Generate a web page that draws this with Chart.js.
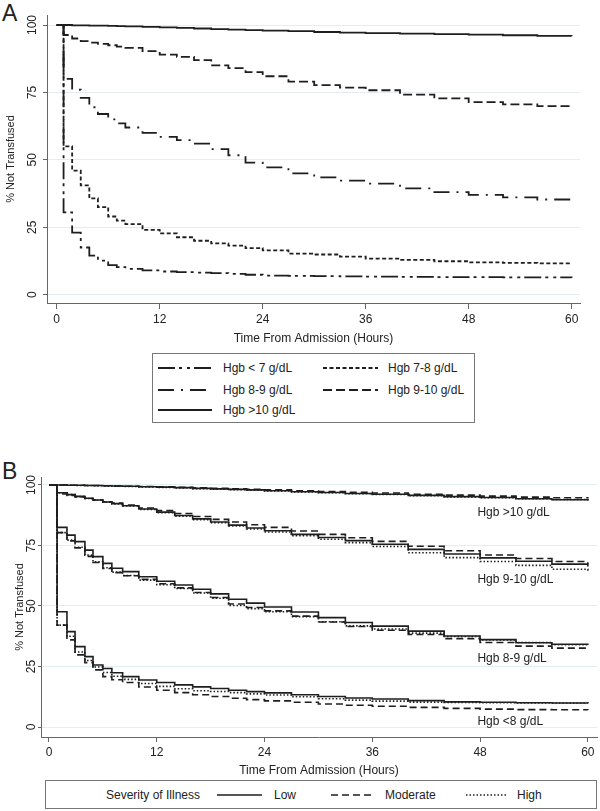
<!DOCTYPE html>
<html>
<head>
<meta charset="utf-8">
<title>Time to transfusion by admission hemoglobin</title>
<script src="https://cdn.jsdelivr.net/npm/chart.js@4/dist/chart.umd.min.js"></script>
<style>
  body { margin: 0; background: #fff; font-family: "Liberation Sans", Arial, sans-serif; color: #222; }
  #page { position: relative; width: 600px; height: 811px; overflow: hidden; }
  canvas { position: absolute; left: 0; }
  .panel-tag { position: absolute; left: 2px; font-size: 23px; line-height: 23px; }
  .legend { position: absolute; border: 1px solid #777; box-sizing: border-box; background: #fff; }
  .legend .txt { position: absolute; height: 16px; line-height: 16px; font-size: 12px; white-space: nowrap; }
  .legend svg { position: absolute; }
</style>
</head>
<body>
<div id="page">
  <div class="panel-tag" style="top:2px">A</div>
  <canvas id="chartA" width="600" height="350" style="top:0"></canvas>
  <div id="legendA" class="legend" style="left:152px; top:353px; width:323px; height:70px"></div>
  <div class="panel-tag" style="top:460px">B</div>
  <canvas id="chartB" width="600" height="342" style="top:440px"></canvas>
  <div id="legendB" class="legend" style="left:45px; top:780px; width:552px; height:29px"></div>
</div>
<script>
'use strict';

// axis ticks
const xTicks = [0, 12, 24, 36, 48, 60];
const yTicks = [0, 25, 50, 75, 100];

// Panel A: % not transfused by admission Hgb
const hoursA = [0, 0.8, 1.8, 2.8, 3.8, 4.8, 6, 7, 8, 10, 12, 14, 16, 18, 20, 22, 24, 27, 30, 33, 36, 40, 44, 48, 52, 56, 60];
const hgbOver10 = [100, 100, 99.9, 99.9, 99.8, 99.8, 99.7, 99.6, 99.5, 99.3, 99.1, 98.9, 98.7, 98.5, 98.3, 98.1, 97.9, 97.7, 97.4, 97.2, 97.0, 96.8, 96.6, 96.4, 96.2, 96.0, 95.9];
const hgb9to10 = [100, 96.3, 95, 94, 93.5, 93, 92.5, 92, 91.5, 90.3, 89, 88.2, 87, 85, 84, 82.5, 81, 79, 77.7, 76.8, 75.8, 74.2, 72.8, 71.4, 70.6, 69.9, 69.4];
const hgb8to9 = [100, 80, 76, 73, 69.5, 67, 65, 63.5, 62, 60, 58.5, 57.3, 56, 54, 51.7, 49, 47.2, 45, 43.5, 42.3, 41.2, 39.4, 38, 37, 36.1, 35.3, 34.8];
const hgb7to8 = [100, 55, 46, 40.5, 35.7, 32.5, 29, 27.5, 26.2, 24, 22.7, 21.3, 20, 19, 18.2, 17.3, 16.4, 15.2, 14.9, 14.1, 13.4, 12.9, 12.4, 12, 11.8, 11.6, 11.5];
const hgbUnder7 = [100, 30.5, 23, 17.5, 14.5, 12.6, 11, 10.2, 9.6, 9, 8.6, 8.4, 8.2, 8, 7.7, 7.4, 7.1, 7, 6.9, 6.8, 6.7, 6.6, 6.5, 6.5, 6.4, 6.4, 6.3];

// Panel B: same groups split by severity of illness
const hoursB = [0, 0.9, 2, 2.9, 4, 4.9, 6, 7, 8.2, 10, 12, 14, 16, 18, 20, 22, 24, 27, 30, 33, 36, 40, 44, 48, 52, 56, 60];
const lowOver10 = [100, 100, 99.9, 99.9, 99.8, 99.8, 99.7, 99.6, 99.5, 99.3, 99.1, 98.9, 98.6, 98.4, 98.2, 98, 97.6, 97.2, 96.9, 96.5, 96.2, 95.7, 95.2, 94.8, 94.3, 93.9, 93.5];
const modOver10 = [100, 100, 99.9, 99.9, 99.8, 99.8, 99.7, 99.6, 99.5, 99.4, 99.2, 99, 98.8, 98.6, 98.4, 98.2, 98, 97.6, 97.3, 97, 96.7, 96.2, 95.8, 95.4, 95, 94.7, 94.4];
const highOver10 = [100, 100, 99.9, 99.8, 99.8, 99.7, 99.6, 99.5, 99.4, 99.2, 99, 98.8, 98.5, 98.3, 98.1, 97.8, 97.5, 97.1, 96.8, 96.4, 96.1, 95.6, 95.1, 94.7, 94.3, 94, 93.7];
const low9to10 = [100, 96.8, 96, 95.3, 94.5, 93.8, 93, 92.3, 91.4, 90.1, 88.8, 87.4, 86, 84.7, 83.4, 82.2, 81.1, 79.6, 78.3, 77, 75.5, 73.4, 71.5, 69.9, 68.5, 67.3, 66.3];
const mod9to10 = [100, 96.3, 95.7, 95.1, 94.4, 93.8, 93.1, 92.5, 91.7, 90.5, 89.4, 88.2, 87, 85.8, 84.7, 83.6, 82.5, 81, 79.6, 78.2, 76.7, 74.7, 72.8, 71.1, 69.6, 68.4, 67.4];
const high9to10 = [100, 96.8, 96, 95.2, 94.4, 93.7, 92.9, 92.2, 91.3, 89.9, 88.5, 87.1, 85.7, 84.4, 83.1, 81.8, 80.6, 79, 77.6, 76.2, 74.6, 72, 70, 68.4, 66.8, 65.2, 63.8];
const low8to9 = [100, 82.5, 79.3, 76.6, 73.1, 70.4, 67.6, 65.6, 64.2, 62.1, 60.2, 58.7, 56.9, 55, 52.8, 51.2, 49.6, 47.5, 45.2, 43.2, 41.7, 39.6, 37.6, 36.1, 34.8, 34.2, 33.9];
const mod8to9 = [100, 80.3, 76.9, 74, 70.5, 68, 65.5, 63.8, 62.5, 61, 59.2, 57.5, 55.6, 53.5, 50.8, 49.4, 48, 45.8, 43.4, 41.5, 40, 38.2, 36.5, 34.9, 33.4, 32.6, 32.1];
const high8to9 = [100, 80.3, 77.2, 74.3, 71, 68.3, 65.8, 64, 62.6, 60.7, 58.8, 57.2, 55.4, 53.2, 50.2, 48.9, 47.6, 45.6, 43.5, 41.8, 40.5, 38.8, 37.4, 36, 34.9, 34, 33.5];
const lowUnder8 = [100, 47.6, 39.4, 33.2, 29.1, 25.6, 24.2, 22.4, 20.8, 19.4, 18.4, 17.4, 16.6, 15.9, 15.2, 14.6, 14.1, 13.3, 12.6, 12, 11.6, 10.9, 10.4, 10.2, 10, 9.9, 9.8];
const modUnder8 = [100, 42.1, 36, 29.8, 26.6, 23.6, 20.8, 19.5, 18.4, 16.5, 15.2, 14.2, 13.3, 12.6, 11.9, 11.3, 10.8, 10.2, 9.5, 9, 8.6, 8.1, 7.7, 7.4, 7.2, 7.1, 7];
const highUnder8 = [100, 42.1, 37.5, 31, 27.5, 24.8, 22.5, 21, 19.7, 18, 16.8, 15.8, 15, 14.7, 14.2, 13.7, 13.2, 12.5, 11.7, 11.1, 10.7, 10.3, 10.1, 10, 9.9, 9.9, 9.8];

// curve labels in panel B (hours, percent)
const groupLabelsB = [
    { text: 'Hgb >10 g/dL', hour: 47.7, pct: 88.4 },
    { text: 'Hgb 9-10 g/dL', hour: 47.7, pct: 60.7 },
    { text: 'Hgb 8-9 g/dL', hour: 47.7, pct: 28.1 },
    { text: 'Hgb <8 g/dL', hour: 47.7, pct: 2.3 }
];

const INK = '#1e1e1e';
const FONT = '"Liberation Sans", Arial, sans-serif';

const dashA = {
    under7: [17, 4, 3, 5, 3, 4],
    d7to8: [4, 2.5],
    d8to9: [16, 7, 2, 7],
    d9to10: [9, 4],
    over10: []
};
const dashB = { low: [], moderate: [7, 4], high: [1.5, 2] };

window.onload = main;

function points(hours, values) {
    return hours.map((h, i) => ({ x: h, y: values[i] }));
}

function kmLine(label, hours, values, dash, width) {
    return {
        label: label,
        data: points(hours, values),
        borderColor: INK,
        borderWidth: width,
        borderDash: dash,
        stepped: true,
        pointRadius: 0,
        fill: false
    };
}

function makeScales(opt) {
    return {
        x: {
            type: 'linear',
            min: opt.xMin,
            max: opt.xMax,
            afterBuildTicks: s => { s.ticks = xTicks.map(v => ({ value: v })); },
            afterFit: s => { s.height = opt.xHeight; },
            border: { color: '#666', width: 1 },
            grid: { drawOnChartArea: false, drawTicks: true, tickLength: opt.xTickLen, tickColor: '#666' },
            ticks: { color: '#222', padding: 3, maxRotation: 0, font: { family: FONT, size: 12 } },
            title: { display: true, text: 'Time From Admission (Hours)', color: '#222',
                     font: { family: FONT, size: 12 }, padding: { top: 2, bottom: 4 } }
        },
        y: {
            type: 'linear',
            min: opt.yMin,
            max: opt.yMax,
            afterBuildTicks: s => { s.ticks = yTicks.map(v => ({ value: v })); },
            afterFit: s => { s.width = opt.yWidth; },
            border: { color: '#666', width: 1 },
            grid: { color: '#e2edf2', lineWidth: 1, drawTicks: true, tickLength: opt.yTickLen, tickColor: '#666' },
            ticks: { color: '#222', minRotation: 90, maxRotation: 90, crossAlign: 'center',
                     padding: opt.yTickPad, font: { family: FONT, size: 12 } },
            title: { display: true, text: '% Not Transfused', color: '#222',
                     font: { family: FONT, size: 11 }, padding: { top: opt.yTitlePad, bottom: 0 } }
        }
    };
}

const groupLabelPlugin = {
    id: 'groupLabels',
    afterDatasetsDraw(chart) {
        const { ctx, scales } = chart;
        ctx.save();
        ctx.font = '12px ' + FONT;
        ctx.fillStyle = '#222';
        ctx.textBaseline = 'middle';
        ctx.textAlign = 'left';
        groupLabelsB.forEach(l => {
            ctx.fillText(l.text, scales.x.getPixelForValue(l.hour), scales.y.getPixelForValue(l.pct));
        });
        ctx.restore();
    }
};

function main() {
    Chart.defaults.font.family = FONT;

    /* Panel A */
    new Chart(document.getElementById('chartA'), {
        type: 'line',
        data: {
            datasets: [
                kmLine('Hgb < 7 g/dL', hoursA, hgbUnder7, dashA.under7, 1.8),
                kmLine('Hgb 7-8 g/dL', hoursA, hgb7to8, dashA.d7to8, 1.8),
                kmLine('Hgb 8-9 g/dL', hoursA, hgb8to9, dashA.d8to9, 1.8),
                kmLine('Hgb 9-10 g/dL', hoursA, hgb9to10, dashA.d9to10, 1.8),
                kmLine('Hgb >10 g/dL', hoursA, hgbOver10, dashA.over10, 1.8)
            ]
        },
        options: {
            responsive: false,
            animation: false,
            devicePixelRatio: 1,
            layout: { padding: { left: 0, top: 15, right: 20, bottom: 0 } },
            plugins: { legend: { display: false }, tooltip: { enabled: false } },
            scales: makeScales({
                xMin: -1.13, xMax: 60.97, xHeight: 47, xTickLen: 6,
                yMin: -3.08, yMax: 103.71, yWidth: 47, yTickLen: 4, yTickPad: 0, yTitlePad: 4
            })
        }
    });

    /* Panel B */
    new Chart(document.getElementById('chartB'), {
        type: 'line',
        data: {
            datasets: [
                kmLine('High >10', hoursB, highOver10, dashB.high, 1.6),
                kmLine('Moderate >10', hoursB, modOver10, dashB.moderate, 1.6),
                kmLine('Low >10', hoursB, lowOver10, dashB.low, 1.6),
                kmLine('High 9-10', hoursB, high9to10, dashB.high, 1.6),
                kmLine('Moderate 9-10', hoursB, mod9to10, dashB.moderate, 1.6),
                kmLine('Low 9-10', hoursB, low9to10, dashB.low, 1.6),
                kmLine('High 8-9', hoursB, high8to9, dashB.high, 1.6),
                kmLine('Moderate 8-9', hoursB, mod8to9, dashB.moderate, 1.6),
                kmLine('Low 8-9', hoursB, low8to9, dashB.low, 1.6),
                kmLine('High <8', hoursB, highUnder8, dashB.high, 1.6),
                kmLine('Moderate <8', hoursB, modUnder8, dashB.moderate, 1.6),
                kmLine('Low <8', hoursB, lowUnder8, dashB.low, 1.6)
            ]
        },
        options: {
            responsive: false,
            animation: false,
            devicePixelRatio: 1,
            layout: { padding: { left: 0, top: 37, right: 3, bottom: 0 } },
            plugins: { legend: { display: false }, tooltip: { enabled: false } },
            scales: makeScales({
                xMin: -0.89, xMax: 61.02, xHeight: 45, xTickLen: 5,
                yMin: -4.13, yMax: 103.3, yWidth: 41, yTickLen: 3, yTickPad: -4, yTitlePad: 13
            })
        },
        plugins: [groupLabelPlugin]
    });

    buildLegend('legendA', [
        { text: 'Hgb < 7 g/dL', dash: dashA.under7, lineX: 5, lineW: 54, textX: 70, y: 14 },
        { text: 'Hgb 7-8 g/dL', dash: dashA.d7to8, lineX: 170, lineW: 55, textX: 235, y: 14 },
        { text: 'Hgb 8-9 g/dL', dash: dashA.d8to9, lineX: 5, lineW: 54, textX: 70, y: 36 },
        { text: 'Hgb 9-10 g/dL', dash: dashA.d9to10, lineX: 170, lineW: 55, textX: 235, y: 36 },
        { text: 'Hgb >10 g/dL', dash: dashA.over10, lineX: 5, lineW: 54, textX: 70, y: 56 }
    ], 1.8);

    buildLegend('legendB', [
        { text: 'Severity of Illness', dash: null, textX: 60, y: 14 },
        { text: 'Low', dash: dashB.low, lineX: 171, lineW: 45, textX: 228, y: 14 },
        { text: 'Moderate', dash: dashB.moderate, lineX: 285, lineW: 44, textX: 339, y: 14 },
        { text: 'High', dash: dashB.high, lineX: 420, lineW: 42, textX: 471, y: 14 }
    ], 1.6);
}

function buildLegend(id, items, width) {
    const box = document.getElementById(id);
    let html = '';
    items.forEach(it => {
        if (it.dash) {
            html += `<svg style="left:${it.lineX}px; top:${it.y - 4}px" width="${it.lineW}" height="8">` +
                `<line x1="0" y1="4" x2="${it.lineW}" y2="4" stroke="${INK}" stroke-width="${width}"` +
                (it.dash.length ? ` stroke-dasharray="${it.dash.join(' ')}"` : '') + '/></svg>';
        }
        html += `<div class="txt" style="left:${it.textX}px; top:${it.y - 8}px">${it.text}</div>`;
    });
    box.innerHTML = html;
}
</script>
</body>
</html>
